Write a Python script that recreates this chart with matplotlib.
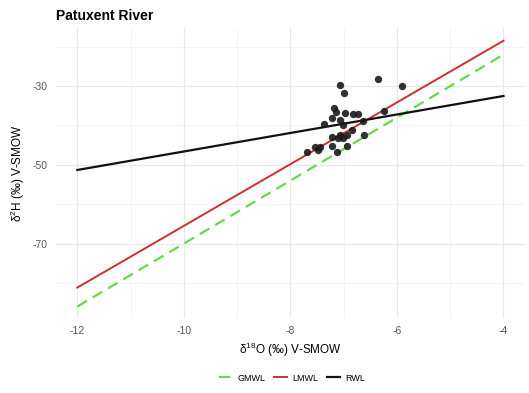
import numpy as np
import matplotlib
matplotlib.use("Agg")
import matplotlib.pyplot as plt
from matplotlib.ticker import MultipleLocator

plt.rcParams['font.family'] = ['Liberation Sans', 'DejaVu Sans']
plt.rcParams['mathtext.default'] = 'regular'
plt.rcParams['axes.unicode_minus'] = False

# River water samples (d18O, d2H)
d18O = [-7.07, -7.00, -6.36, -5.91, -7.18, -7.15, -6.97, -6.83, -6.74, -7.22,
        -7.07, -7.37, -7.02, -6.63, -6.24, -6.85, -7.22, -7.07, -7.01, -6.94,
        -6.61, -7.21, -6.94, -7.13, -7.69, -7.54, -7.49, -7.44, -7.11]
d2H = [-29.7, -31.8, -28.2, -29.9, -35.5, -36.5, -36.9, -37.2, -37.2, -38.2,
       -38.6, -39.6, -39.8, -38.8, -36.4, -41.1, -42.8, -42.5, -43.1, -42.5,
       -42.5, -45.2, -45.2, -46.8, -46.7, -45.5, -46.2, -45.5, -43.2]

# water lines: name, slope, intercept
line_names = ["GMWL", "LMWL", "RWL"]
slopes = [8.0, 7.84, 2.35]
intercepts = [10.0, 12.9, -23.1]
line_colors = ["#66d94a", "#cc2f2f", "#111111"]
line_styles = [(0, (5, 3)), "-", "-"]
line_widths = [1.6, 1.4, 1.6]

x_line = np.array([-12, -4])

fig = plt.figure(figsize=(5.29, 3.93), dpi=100)
ax = fig.add_axes([0.106, 0.191, 0.886, 0.738])

for name, m, b, c, ls, lw in zip(line_names, slopes, intercepts,
                                 line_colors, line_styles, line_widths):
    ax.plot(x_line, m * x_line + b, color=c, linestyle=ls, linewidth=lw,
            label=name, zorder=3)

ax.scatter(d18O, d2H, s=28, color="#1a1a1a", alpha=0.9, linewidths=0, zorder=4)

ax.set_xlim(-12.4, -3.6)
ax.set_ylim(-88.9, -15.2)
ax.set_xticks([-12, -10, -8, -6, -4])
ax.set_yticks([-70, -50, -30])
ax.xaxis.set_minor_locator(MultipleLocator(1))
ax.set_yticks([-80, -60, -40, -20], minor=True)

ax.grid(which="major", color="#e8e8e8", linewidth=0.9)
ax.grid(which="minor", color="#f3f3f3", linewidth=0.6)
ax.set_axisbelow(True)
for s in ax.spines.values():
    s.set_visible(False)
ax.tick_params(which="both", length=0, labelsize=7.5, labelcolor="#555555")
ax.tick_params(axis="x", pad=6)
ax.tick_params(axis="y", pad=6)

ax.set_xlabel("δ$^{18}$O (‰) V-SMOW", fontsize=8.5, labelpad=3)
ax.set_ylabel("δ$^{2}$H (‰) V-SMOW", fontsize=8.5)
ax.yaxis.set_label_coords(-0.062, 0.5)
fig.text(0.105, 0.96, "Patuxent River", fontsize=10, fontweight="bold",
         va="center", ha="left")

fig.legend(loc="center", bbox_to_anchor=(0.552, 0.038), ncol=3, frameon=False,
           fontsize=6.5, handlelength=1.4, handletextpad=0.6, columnspacing=1.0)

fig.savefig("out.png", dpi=100)
